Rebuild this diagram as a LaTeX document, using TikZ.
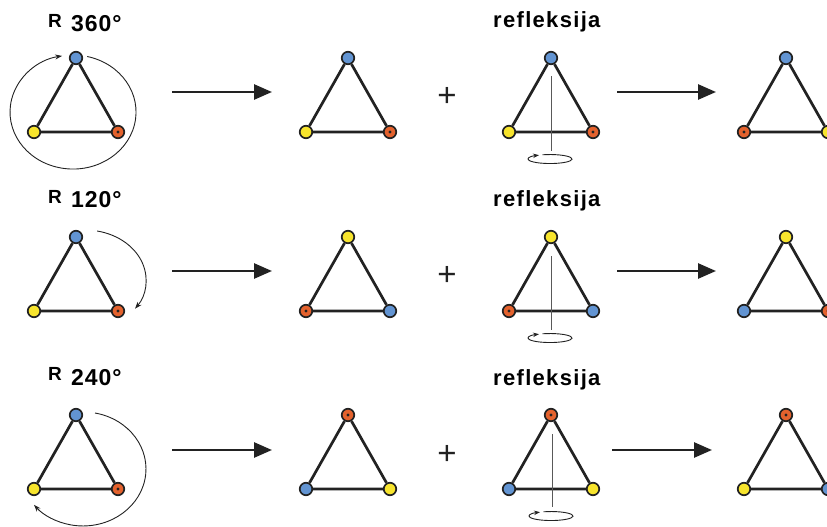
\documentclass[tikz,border=0pt]{standalone}
\usepackage{fontspec}
\setmainfont{Liberation Sans}
\usetikzlibrary{arrows.meta}
\definecolor{vblue}{RGB}{98,148,210}
\definecolor{vyellow}{RGB}{247,228,45}
\definecolor{vorange}{RGB}{228,98,45}
\definecolor{ink}{RGB}{34,34,34}
\newcommand\Tri[6]{%
  \node[#4] (#1t) at (#2,-#3) {};
  \node[#5] (#1l) at ({#2-42},{-#3-74}) {};
  \node[#6] (#1r) at ({#2+42},{-#3-74}) {};
  \draw[edge] (#1t) -- (#1l) -- (#1r) -- (#1t);
}
\begin{document}
\begin{tikzpicture}[x=1pt,y=1pt,
  vtx/.style={circle,draw=ink,line width=1.7pt,minimum size=12.5pt,inner sep=0pt},
  vb/.style={vtx,fill=vblue},
  vy/.style={vtx,fill=vyellow},
  vo/.style={vtx,fill=vorange,path picture={\fill[ink] (path picture bounding box.center) circle (1.6pt);}},
  edge/.style={draw=ink,line width=2.7pt},
  bigarrow/.style={draw=ink,line width=2.6pt,-{Triangle[length=18pt,width=15pt]}},
  rotarc/.style={draw=ink,line width=0.9pt,-{Stealth[length=7pt,width=5pt]}},
  refarc/.style={draw=ink,line width=0.9pt,-{Stealth[length=6pt,width=4.5pt]}},
  axisline/.style={draw=ink!75,line width=1pt},
  rlbl/.style={anchor=base west,inner sep=0pt,font={\fontsize{19}{19}\selectfont\bfseries}},
  nlbl/.style={anchor=base west,inner sep=0pt,font={\fontsize{23}{23}\selectfont\bfseries\addfontfeature{LetterSpace=4}}},
  flbl/.style={anchor=base west,inner sep=0pt,font={\fontsize{22}{22}\selectfont\bfseries\addfontfeature{LetterSpace=6}}},
  plbl/.style={inner sep=0pt,text=ink,font={\fontsize{33}{33}\selectfont}}
]
\useasboundingbox (0,0) rectangle (827,-527);

% labels
\node[rlbl] (r1R) at (48,-28) {R};
\node[nlbl] (r1n) at (71,-32) {360°};
\node[rlbl] (r2R) at (48,-203) {R};
\node[nlbl] (r2n) at (71,-207) {120°};
\node[rlbl] (r3R) at (48,-380) {R};
\node[nlbl] (r3n) at (71,-385) {240°};
\node[flbl] (f1) at (493,-28) {refleksija};
\node[flbl] (f2) at (493,-206) {refleksija};
\node[flbl] (f3) at (493,-385) {refleksija};

% triangles
\Tri{a1}{76}{58}{vb}{vy}{vo}
\Tri{a2}{348}{58}{vb}{vy}{vo}
\Tri{a3}{551}{58}{vb}{vy}{vo}
\Tri{a4}{786}{58}{vb}{vo}{vy}
\Tri{b1}{76}{237}{vb}{vy}{vo}
\Tri{b2}{348}{237}{vy}{vo}{vb}
\Tri{b3}{551}{237}{vy}{vo}{vb}
\Tri{b4}{786}{237}{vy}{vb}{vo}
\Tri{c1}{76}{415}{vb}{vy}{vo}
\Tri{c2}{348}{415}{vo}{vb}{vy}
\Tri{c3}{551}{415}{vo}{vb}{vy}
\Tri{c4}{786}{415}{vo}{vy}{vb}

% rotation arcs
\coordinate (rot1) at (87.2,-56.5);
\draw[rotarc] (rot1) arc[start angle=77,end angle=-260,x radius=63,y radius=57];
\coordinate (rot2) at (97.1,-231);
\draw[rotarc] (rot2) arc[start angle=78.6,end angle=-35,x radius=61,y radius=50];
\coordinate (rot3) at (95,-413);
\draw[rotarc] (rot3) arc[start angle=79,end angle=-141,x radius=63,y radius=57];

% big arrows
\coordinate (A1s) at (172,-92);  \coordinate (A1e) at (272,-92);
\coordinate (A2s) at (617,-92);  \coordinate (A2e) at (716,-92);
\coordinate (B1s) at (172,-271); \coordinate (B1e) at (272,-271);
\coordinate (B2s) at (617,-271); \coordinate (B2e) at (716,-271);
\coordinate (C1s) at (172,-450); \coordinate (C1e) at (272,-450);
\coordinate (C2s) at (612,-450); \coordinate (C2e) at (712,-450);
\draw[bigarrow] (A1s) -- (A1e);
\draw[bigarrow] (A2s) -- (A2e);
\draw[bigarrow] (B1s) -- (B1e);
\draw[bigarrow] (B2s) -- (B2e);
\draw[bigarrow] (C1s) -- (C1e);
\draw[bigarrow] (C2s) -- (C2e);

% plus signs
\node[plbl] (p1) at (447,-97) {+};
\node[plbl] (p2) at (447,-276) {+};
\node[plbl] (p3) at (447,-455) {+};

% reflection axes
\coordinate (ax1t) at (551,-76);  \coordinate (ax1b) at (551,-151);
\coordinate (ax2t) at (551,-256); \coordinate (ax2b) at (551,-330);
\coordinate (ax3t) at (552,-434); \coordinate (ax3b) at (552,-507);
\draw[axisline] (ax1t) -- (ax1b);
\draw[axisline] (ax2t) -- (ax2b);
\draw[axisline] (ax3t) -- (ax3b);
\coordinate (el1) at (542.5,-154.8);
\coordinate (el2) at (542.5,-333.8);
\coordinate (el3) at (543.5,-511.8);
\draw[refarc] (el1) arc[start angle=110,end angle=-240,x radius=22,y radius=4.5];
\draw[refarc] (el2) arc[start angle=110,end angle=-240,x radius=22,y radius=4.5];
\draw[refarc] (el3) arc[start angle=110,end angle=-240,x radius=22,y radius=4.5];
\end{tikzpicture}
\end{document}
